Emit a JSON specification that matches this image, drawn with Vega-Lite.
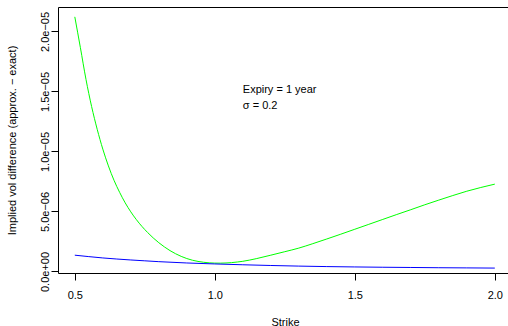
{
  "$schema": "https://vega.github.io/schema/vega-lite/v6.json",
  "width": 450,
  "height": 266,
  "autosize": "none",
  "padding": {"left": 58, "top": 7, "right": 0, "bottom": 53},
  "background": "white",
  "config": {
    "view": {"stroke": null},
    "font": "Liberation Sans",
    "axis": {
      "grid": false,
      "domainColor": "#000000",
      "tickColor": "#000000",
      "labelColor": "#000000",
      "titleColor": "#000000",
      "labelFont": "Liberation Sans",
      "titleFont": "Liberation Sans",
      "labelFontSize": 11,
      "titleFontSize": 11,
      "titleFontWeight": "normal",
      "tickSize": 7,
      "labelFlush": false,
      "labelOverlap": false
    }
  },
  "datasets": {
    "curves": [
      {"strike": 0.50, "value": 21.22e-6, "series": "approximation 1"},
      {"strike": 0.52, "value": 18.65e-6, "series": "approximation 1"},
      {"strike": 0.54, "value": 16.0e-6, "series": "approximation 1"},
      {"strike": 0.56, "value": 13.75e-6, "series": "approximation 1"},
      {"strike": 0.58, "value": 11.85e-6, "series": "approximation 1"},
      {"strike": 0.60, "value": 10.2e-6, "series": "approximation 1"},
      {"strike": 0.62, "value": 8.8e-6, "series": "approximation 1"},
      {"strike": 0.64, "value": 7.6e-6, "series": "approximation 1"},
      {"strike": 0.66, "value": 6.6e-6, "series": "approximation 1"},
      {"strike": 0.68, "value": 5.72e-6, "series": "approximation 1"},
      {"strike": 0.70, "value": 4.97e-6, "series": "approximation 1"},
      {"strike": 0.72, "value": 4.32e-6, "series": "approximation 1"},
      {"strike": 0.74, "value": 3.75e-6, "series": "approximation 1"},
      {"strike": 0.76, "value": 3.25e-6, "series": "approximation 1"},
      {"strike": 0.78, "value": 2.8e-6, "series": "approximation 1"},
      {"strike": 0.80, "value": 2.4e-6, "series": "approximation 1"},
      {"strike": 0.82, "value": 2.05e-6, "series": "approximation 1"},
      {"strike": 0.84, "value": 1.74e-6, "series": "approximation 1"},
      {"strike": 0.86, "value": 1.48e-6, "series": "approximation 1"},
      {"strike": 0.88, "value": 1.26e-6, "series": "approximation 1"},
      {"strike": 0.90, "value": 1.08e-6, "series": "approximation 1"},
      {"strike": 0.92, "value": 0.94e-6, "series": "approximation 1"},
      {"strike": 0.94, "value": 0.84e-6, "series": "approximation 1"},
      {"strike": 0.96, "value": 0.77e-6, "series": "approximation 1"},
      {"strike": 0.98, "value": 0.72e-6, "series": "approximation 1"},
      {"strike": 1.00, "value": 0.70e-6, "series": "approximation 1"},
      {"strike": 1.02, "value": 0.696e-6, "series": "approximation 1"},
      {"strike": 1.04, "value": 0.71e-6, "series": "approximation 1"},
      {"strike": 1.06, "value": 0.74e-6, "series": "approximation 1"},
      {"strike": 1.08, "value": 0.79e-6, "series": "approximation 1"},
      {"strike": 1.10, "value": 0.85e-6, "series": "approximation 1"},
      {"strike": 1.15, "value": 1.08e-6, "series": "approximation 1"},
      {"strike": 1.20, "value": 1.36e-6, "series": "approximation 1"},
      {"strike": 1.25, "value": 1.65e-6, "series": "approximation 1"},
      {"strike": 1.30, "value": 1.95e-6, "series": "approximation 1"},
      {"strike": 1.35, "value": 2.32e-6, "series": "approximation 1"},
      {"strike": 1.40, "value": 2.71e-6, "series": "approximation 1"},
      {"strike": 1.45, "value": 3.11e-6, "series": "approximation 1"},
      {"strike": 1.50, "value": 3.52e-6, "series": "approximation 1"},
      {"strike": 1.55, "value": 3.93e-6, "series": "approximation 1"},
      {"strike": 1.60, "value": 4.34e-6, "series": "approximation 1"},
      {"strike": 1.65, "value": 4.75e-6, "series": "approximation 1"},
      {"strike": 1.70, "value": 5.15e-6, "series": "approximation 1"},
      {"strike": 1.75, "value": 5.56e-6, "series": "approximation 1"},
      {"strike": 1.80, "value": 5.95e-6, "series": "approximation 1"},
      {"strike": 1.85, "value": 6.33e-6, "series": "approximation 1"},
      {"strike": 1.90, "value": 6.69e-6, "series": "approximation 1"},
      {"strike": 1.95, "value": 7.0e-6, "series": "approximation 1"},
      {"strike": 2.00, "value": 7.28e-6, "series": "approximation 1"},
      {"strike": 0.50, "value": 1.36e-6, "series": "approximation 2"},
      {"strike": 0.55, "value": 1.24e-6, "series": "approximation 2"},
      {"strike": 0.60, "value": 1.13e-6, "series": "approximation 2"},
      {"strike": 0.65, "value": 1.04e-6, "series": "approximation 2"},
      {"strike": 0.70, "value": 0.96e-6, "series": "approximation 2"},
      {"strike": 0.75, "value": 0.89e-6, "series": "approximation 2"},
      {"strike": 0.80, "value": 0.82e-6, "series": "approximation 2"},
      {"strike": 0.90, "value": 0.71e-6, "series": "approximation 2"},
      {"strike": 1.00, "value": 0.63e-6, "series": "approximation 2"},
      {"strike": 1.10, "value": 0.56e-6, "series": "approximation 2"},
      {"strike": 1.20, "value": 0.50e-6, "series": "approximation 2"},
      {"strike": 1.30, "value": 0.45e-6, "series": "approximation 2"},
      {"strike": 1.40, "value": 0.41e-6, "series": "approximation 2"},
      {"strike": 1.50, "value": 0.38e-6, "series": "approximation 2"},
      {"strike": 1.60, "value": 0.355e-6, "series": "approximation 2"},
      {"strike": 1.70, "value": 0.335e-6, "series": "approximation 2"},
      {"strike": 1.80, "value": 0.315e-6, "series": "approximation 2"},
      {"strike": 1.90, "value": 0.30e-6, "series": "approximation 2"},
      {"strike": 2.00, "value": 0.285e-6, "series": "approximation 2"}
    ],
    "notes": [
      {"strike": 1.1, "value": 14.9e-6, "label": "Expiry = 1 year"},
      {"strike": 1.1, "value": 13.54e-6, "label": "σ = 0.2"}
    ]
  },
  "resolve": {"axis": {"x": "independent"}},
  "layer": [
    {
      "data": {"name": "curves"},
      "mark": {"type": "line", "strokeWidth": 1, "interpolate": "monotone", "clip": true},
      "encoding": {
        "x": {
          "field": "strike", "type": "quantitative",
          "scale": {"domain": [0.44, 2.0471], "nice": false, "zero": false},
          "axis": {
            "orient": "bottom",
            "title": "Strike",
            "values": [0.5, 1.0, 1.5, 2.0],
            "format": ".1f",
            "labelBaseline": "alphabetic",
            "labelPadding": 18,
            "titleX": 227,
            "titleY": 52,
            "titleBaseline": "alphabetic",
            "titleAlign": "center",
            "titleAnchor": null
          }
        },
        "y": {
          "field": "value", "type": "quantitative",
          "scale": {"domain": [-0.125e-6, 22.04e-6], "nice": false, "zero": false},
          "axis": {
            "title": "Implied vol difference (approx. − exact)",
            "values": [0, 0.000005, 0.00001, 0.000015, 0.00002],
            "labelExpr": "round(datum.value*1e7) == 0 ? '0.0e+00' : round(datum.value*1e7) == 50 ? '5.0e−06' : round(datum.value*1e7) == 100 ? '1.0e−05' : round(datum.value*1e7) == 150 ? '1.5e−05' : '2.0e−05'",
            "labelAngle": -90,
            "labelAlign": "center",
            "labelBaseline": "alphabetic",
            "labelPadding": 3,
            "titleAngle": -90,
            "titleX": -43,
            "titleY": 133,
            "titleAlign": "center",
            "titleBaseline": "alphabetic",
            "titleAnchor": null
          }
        },
        "color": {
          "field": "series", "type": "nominal",
          "scale": {"domain": ["approximation 1", "approximation 2"], "range": ["#00FF00", "#0000FF"]},
          "legend": null
        }
      }
    },
    {
      "data": {"name": "notes"},
      "mark": {"type": "text", "align": "left", "baseline": "alphabetic", "fontSize": 11, "font": "Liberation Sans", "color": "#000000"},
      "encoding": {
        "x": {
          "field": "strike", "type": "quantitative",
          "axis": {"orient": "top", "ticks": false, "labels": false, "title": null, "domain": true}
        },
        "y": {"field": "value", "type": "quantitative"},
        "text": {"field": "label", "type": "nominal"}
      }
    }
  ]
}
